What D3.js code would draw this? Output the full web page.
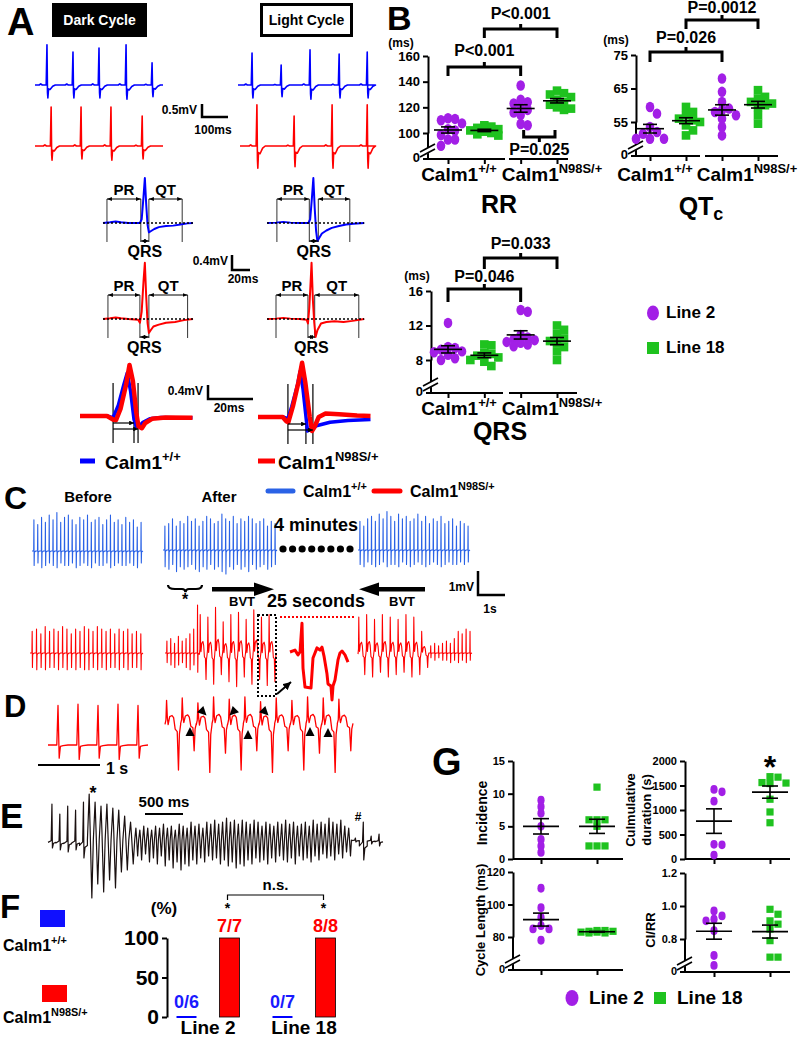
<!DOCTYPE html>
<html>
<head>
<meta charset="utf-8">
<script src="https://cdn.jsdelivr.net/npm/d3@7/dist/d3.min.js"></script>
<style>
  body { margin: 0; background: #fff; }
  svg { display: block; }
</style>
</head>
<body>
<svg id="fig" width="800" height="1039"></svg>
<script>
// ---------------- data ----------------

// A, top strips: R-peak times (ms), R heights and S depths (mV)
const darkBlueBeats = [46, 146, 246, 350, 450];
const darkBlueR = [1.55, 1.27, 1.42, 1.55, 0.85];
const darkBlueS = [-0.5, -0.5, -0.5, -0.55, -0.45];
const darkRedBeats = [62, 177, 292, 412];
const darkRedR = [1.5, 1.5, 1.5, 1.15];
const darkRedS = [-0.55, -0.5, -0.55, -0.5];
const lightBlueBeats = [54, 166, 277, 389, 497];
const lightBlueR = [1.23, 0.77, 1.35, 1.19, 1.27];
const lightBlueS = [-0.5, -0.45, -0.55, -0.5, -0.5];
const lightRedBeats = [65, 208, 354, 489];
const lightRedR = [1.58, 1.15, 1.58, 1.58];
const lightRedS = [-0.85, -0.8, -0.85, -0.85];
// beat template: [ms from R, weight of R, weight of S]
const beatShapeA = [[-30,0,0],[-24,0.03,0],[-18,0,0],[-3,0,0],[0,1,0],[2,0,0.6],[3.5,0,1],[6,0,0.3],[12,0,0.35],[22,0,0.1],[32,0,0]];

// A, averaged beats [ms, mV] and interval marks [PR start, QRS start, QRS end, QT end]
const avgDarkBlue = [[0,0],[8,0.02],[14,0.04],[20,0.02],[28,0],[41,0],[43,0.1],[45,0.7],[46.5,1.2],[48,0.5],[49.5,-0.05],[51,-0.25],[53,-0.22],[57,-0.16],[62,-0.11],[70,-0.08],[78,-0.07],[86,-0.04],[94,-0.01],[100,0]];
const avgDarkRed = [[0,0],[8,0.02],[14,0.04],[20,0.02],[28,0],[39,-0.02],[41,-0.1],[43,0.2],[45,1.0],[46.5,1.5],[48,0.6],[49.5,-0.1],[51,-0.37],[53,-0.3],[56,-0.2],[62,-0.15],[70,-0.1],[80,-0.08],[90,-0.03],[100,0]];
const avgLightBlue = [[0,0],[10,0.01],[18,0.03],[26,0.01],[36,0],[46,0],[48,0.1],[50,0.7],[51.5,1.2],[53,0.4],[54.5,-0.2],[56,-0.48],[58,-0.4],[61,-0.28],[66,-0.2],[72,-0.13],[80,-0.08],[88,-0.04],[96,-0.02],[108,0]];
const avgLightRed = [[0,0],[10,0.01],[18,0.03],[26,0.01],[36,0],[44,-0.02],[45.5,-0.12],[47,0.3],[48.5,1.0],[49.5,1.5],[51,0.5],[52.5,-0.1],[54,-0.48],[56,-0.3],[60,-0.12],[66,-0.08],[75,-0.06],[85,-0.08],[95,-0.05],[108,0]];
const marksDarkBlue = [4.4, 42, 51, 88];
const marksDarkRed = [5.5, 41, 51, 94];
const marksLightBlue = [11, 47, 57, 92];
const marksLightRed = [10, 45.5, 53, 102];

// A, QRS overlays [ms, mV] and marks [QRS start, end WT, end mutant]
const ovDarkBlue = [[0,0],[12,0],[14.7,-0.05],[17,0.3],[19.5,0.9],[21,1.23],[22.5,0.7],[24,-0.1],[25,-0.3],[26.5,-0.28],[28,-0.18],[31,-0.08],[36,-0.04],[43,-0.05],[50,-0.05]];
const ovDarkRed = [[0,0],[12,0],[14.7,-0.1],[16,-0.12],[18,0.2],[20.5,0.9],[22,1.46],[23.5,1.0],[25,0.1],[26,-0.3],[27.5,-0.35],[29,-0.2],[32,-0.08],[38,-0.04],[50,-0.05]];
const ovLightBlue = [[0,0],[11,0],[13.3,-0.05],[15,0.3],[17.5,0.9],[18.7,1.3],[20,0.8],[21.5,-0.1],[22,-0.4],[23.5,-0.35],[26,-0.25],[32,-0.15],[40,-0.1],[50,-0.07]];
const ovLightRed = [[0,0],[11,0],[12.5,-0.12],[13.5,-0.15],[15.5,0.3],[18,1.0],[19.6,1.55],[21,1.0],[23,0.0],[24,-0.4],[25,-0.3],[27,0.0],[30,0.1],[36,0.08],[44,0.04],[50,0.03]];
const ovMarksDark = [14.7, 24, 25.8];
const ovMarksLight = [13.3, 21.3, 24.4];

// B, scatter values (ms)
const groupsB = ['WT line 2', 'WT line 18', 'N98S line 2', 'N98S line 18'];
const rrWT2 = [111.5, 111, 110, 107.5, 103, 102, 98.5, 95, 95, 90];
const rrWT18 = [106, 105, 104, 103, 102, 101, 100, 99, 98];
const rrMut2 = [137, 126, 124, 123, 120, 118, 116, 114, 107, 106];
const rrMut18 = [133, 131, 130, 128, 126, 124, 122, 120, 119, 118];
const qtWT2 = [59.5, 57.5, 53.5, 52, 51.5, 50, 50, 50];
const qtWT18 = [59.5, 58, 57, 56, 55.5, 55, 54, 52.5, 51];
const qtMut2 = [68, 64, 61, 59, 58.5, 58, 57, 56, 53.5, 51];
const qtMut18 = [64.5, 62.5, 62, 61, 60.5, 60, 59.5, 57, 54.5];
const qrsWT2 = [12.3, 9.5, 9.4, 9.2, 9.0, 8.9, 8.6, 8.2, 8.0];
const qrsWT18 = [9.8, 9.7, 8.8, 8.7, 8.5, 8.3, 8.0, 7.8, 7.3];
const qrsMut2 = [13.8, 13.6, 10.9, 10.6, 10.4, 10.3, 10.1, 10.0, 9.8, 9.6];
const qrsMut18 = [12.0, 11.5, 11.0, 10.5, 10.2, 10.0, 9.5, 9.0, 8.0];
const rrTicks = [100, 120, 140, 160];
const qtTicks = [55, 65, 75];
const qrsTicks = [8, 12, 16];

// C, rhythm strips (mV per beat)
const cBlueBeforeUp = [1.3,1.1,1.4,1.2,1.5,1.3,1.6,1.2,1.4,1.5,1.3,1.1,1.4,1.3,1.5,1.2,1.3,1.4,1.1,1.3,1.5,1.2,1.3,1.1,1.4,1.2,1.3,1.0,1.2];
const cBlueBeforeDown = [-0.6,-0.5,-0.7,-0.6,-0.5,-0.6,-0.7,-0.5,-0.6,-0.6,-0.5,-0.7,-0.6,-0.5,-0.6,-0.7,-0.5,-0.6,-0.6,-0.5,-0.7,-0.6,-0.5,-0.6,-0.6,-0.5,-0.6,-0.7,-0.5];
const cBlueAfterUp = [1.0,1.1,1.3,1.0,1.2,1.1,1.4,1.2,1.3,1.0,1.2,1.4,1.3,1.1,1.2,1.5,1.3,1.2,1.4,1.1,1.3,1.2,1.4,1.3,1.1,1.2,1.3,1.0,1.2,1.1];
const cBlueAfterDown = [-0.7,-0.8,-0.6,-0.9,-0.7,-0.8,-0.7,-0.6,-0.8,-0.9,-0.7,-0.8,-0.6,-0.8,-0.7,-0.9,-1.0,-0.7,-0.8,-0.6,-0.8,-0.7,-0.9,-0.6,-0.8,-0.7,-0.6,-0.8,-0.7,-0.6];
const cBlueLateUp = [1.2,1.0,1.3,1.4,1.2,1.5,1.3,1.6,1.4,1.2,1.5,1.3,1.4,1.2,1.3,1.5,1.2,1.4,1.1,1.3,1.2,1.4,1.1,1.2,1.3,1.0,1.2,1.1,1.0];
const cBlueLateDown = [-0.6,-0.7,-0.5,-0.6,-0.7,-0.6,-0.5,-0.7,-0.6,-0.6,-0.7,-0.5,-0.6,-0.7,-0.6,-0.5,-0.6,-0.7,-0.6,-0.5,-0.6,-0.7,-0.6,-0.5,-0.6,-0.6,-0.5,-0.6,-0.5];
const cRedBeforeUp = [0.9,1.0,0.8,1.1,0.9,1.0,0.9,1.1,1.0,0.8,1.0,0.9,1.1,1.0,0.9,1.1,1.0,0.9,1.0,0.8,1.0,0.9,1.0,0.8,0.9,0.8];
const cRedBeforeDown = [-0.6,-0.7,-0.6,-0.7,-0.6,-0.6,-0.7,-0.6,-0.7,-0.6,-0.7,-0.6,-0.7,-0.7,-0.6,-0.7,-0.6,-0.7,-0.6,-0.6,-0.7,-0.6,-0.7,-0.6,-0.6,-0.7];
const cRedAfterSinusUp = [0.5,0.6,0.4,0.7,0.5,0.6,0.8,1.0,2.0];
const cRedAfterSinusDown = [-0.4,-0.5,-0.6,-0.5,-0.4,-0.6,-0.7,-0.5,-0.8];
const cRedAfterVtUp = [1.6,1.5,1.9,1.3,1.6,1.7,1.4,1.8,1.5,1.6];
const cRedAfterVtDown = [-1.1,-1.3,-0.9,-1.2,-1.4,-1.0,-1.3,-1.1,-1.35,-1.2];
const cRedLateVtUp = [1.5,1.6,1.4,1.6,1.5,1.4,1.6,1.5,0.9];
const cRedLateVtDown = [-0.9,-1.0,-0.8,-1.0,-0.9,-0.8,-1.0,-0.9,-0.6];
const cRedLateSinusUp = [0.3,0.4,0.3,0.4,0.5,0.4,0.6,0.9,0.8,1.0,0.9];
const cRedLateSinusDown = [-0.2,-0.3,-0.2,-0.3,-0.3,-0.4,-0.3,-0.4,-0.3,-0.4,-0.3];
// magnified VT complex [ms, mV]
const cInset = [[0,0],[5,0.08],[8,-0.12],[10,0],[12,1.2],[13,-0.67],[15,-1.46],[21,-1.5],[23,-0.25],[27,0.17],[30,0.08],[32,0.2],[34,-0.17],[37,-0.92],[38,-1.33],[41,-1.42],[42,-2.0],[43,-1.42],[45,-1.17],[48,-0.33],[50,-0.04],[52,0.04],[55,-0.12],[58,-0.42]];

// D
const dSinusUp = [1.65, 1.7, 1.65, 1.7, 1.65];
const dSinusDown = [-0.55, -0.6, -0.55, -0.6, -0.55];
const dVtUp = [0.9, 1.0, 0.8, 1.05, 0.95, 1.05, 0.85, 1.0, 0.9, 1.05, 1.0, 0.95];
const dVtDown = [-2.0, -1.2, -2.1, -1.3, -2.0, -1.2, -2.1, -1.2, -2.0, -1.3, -2.1, -1.2];

// E, polymorphic VT (mV per cycle)
const eBeatUp = [1.8, 1.3, 1.7, 1.5, 1.9];
const eBeatDown = [-0.4, -0.5, -0.6, -0.5, -0.9];
const eOscUp = [2.3, 1.9, 1.7, 1.8, 1.6, 1.5, 1.2, 0.9];
const eOscDown = [-2.9, -2.2, -2.6, -2.0, -2.4, -1.6, -1.5, -1.2];
const eFastUp = [0.6,0.5,0.7,0.6,0.5,0.7,0.6,0.8,0.6,0.7,0.5,0.8,0.7,0.6,0.9,0.7,0.8,0.6,0.9,0.8,1.0,0.8,0.9,1.1,0.9,1.0,0.8,1.0,0.9,0.8,1.0,0.9,0.7,0.9,0.8,0.7,0.9,0.8,1.0,0.8,0.9,0.7,0.8,0.9,0.7,1.0,0.8,0.9,0.8,1.1,0.9,0.8,1.0,0.7,0.6];
const eFastDown = [-0.8,-1.0,-0.7,-1.1,-0.9,-1.2,-0.8,-1.3,-1.0,-1.4,-1.1,-1.5,-1.2,-1.3,-1.0,-1.2,-0.9,-1.1,-0.8,-1.0,-0.9,-1.2,-1.0,-1.3,-1.1,-1.4,-1.2,-1.3,-1.0,-1.2,-0.9,-1.1,-1.0,-1.2,-0.9,-1.1,-0.8,-1.0,-1.1,-0.9,-1.2,-0.8,-1.0,-0.9,-1.1,-0.8,-1.0,-0.7,-0.9,-0.8,-1.0,-0.7,-0.9,-0.6,-0.8];
const eTailUp = [0.1, 0.9, 0.2, 0.3];
const eTailDown = [-0.1, -1.0, -0.2, -0.3];

// F
const fLines = ['Line 2', 'Line 18'];
const fWT = [0, 0];
const fMut = [100, 100];
const fWTLabel = ['0/6', '0/7'];
const fMutLabel = ['7/7', '8/8'];
const fTicks = [0, 50, 100];

// G
const incL2 = [9, 8, 7, 5, 3, 2, 1];
const incL18 = [11, 6, 6, 6, 5, 2, 2, 2];
const durL2 = [1420, 1370, 1180, 300, 290, 80];
const durL18 = [1680, 1670, 1560, 1550, 1540, 1220, 960, 740];
const clL2 = [110, 98, 92, 87, 85, 85, 78];
const clL18 = [84, 84, 83.5, 83.5, 83, 83, 82.5, 82.5];
const ciL2 = [0.97, 0.94, 0.92, 0.91, 0.85, 0.70, 0.64];
const ciL18 = [0.98, 0.95, 0.91, 0.89, 0.86, 0.79, 0.69, 0.69];

// ---------------- drawing ----------------
const FONT = "'Liberation Sans', Arial, Helvetica, sans-serif";
const PURPLE = '#a21fe6', GREEN = '#1fc21f', BLUE = '#0000ff', RED = '#ff0000', CBLUE = '#2a62e6';

const svg = d3.select('#fig');
svg.append('rect').attr('width', 800).attr('height', 1039).attr('fill', '#fff');
const defs = svg.append('defs');
defs.append('marker').attr('id', 'ah').attr('viewBox', '0 0 10 10').attr('refX', 10).attr('refY', 5)
  .attr('markerWidth', 5).attr('markerHeight', 5).attr('orient', 'auto-start-reverse')
  .append('path').attr('d', 'M0,1 L10,5 L0,9 z').attr('fill', '#000');
defs.append('marker').attr('id', 'ahb').attr('viewBox', '0 0 10 10').attr('refX', 10).attr('refY', 5)
  .attr('markerWidth', 4).attr('markerHeight', 4).attr('orient', 'auto')
  .append('path').attr('d', 'M0,0 L10,5 L0,10 z').attr('fill', '#000');

function txt(g, x, y, s, size, o = {}) {
  return g.append('text').attr('x', x).attr('y', y).attr('font-size', size)
    .attr('font-family', FONT).attr('font-weight', o.weight || 'bold')
    .attr('text-anchor', o.anchor || 'start').attr('dominant-baseline', o.base || 'middle')
    .attr('fill', o.fill || '#000').text(s);
}
function letter(s, x, y, size) {
  txt(svg, x, y, s, size, { base: 'auto' });
}
// "Calm1" with superscript genotype, y is the visual middle of the word
function calm(g, x, y, sup, size, anchor) {
  const t = g.append('text').attr('x', x).attr('y', y + size * 0.36).attr('font-size', size)
    .attr('font-family', FONT).attr('font-weight', 'bold')
    .attr('text-anchor', anchor || 'middle');
  t.append('tspan').text('Calm1');
  t.append('tspan').attr('font-size', size * 0.68).attr('dy', -size * 0.42).text(sup);
  return t;
}
function seg(g, x1, y1, x2, y2, w, color, dash) {
  const l = g.append('line').attr('x1', x1).attr('y1', y1).attr('x2', x2).attr('y2', y2)
    .attr('stroke', color || '#000').attr('stroke-width', w || 1);
  if (dash) l.attr('stroke-dasharray', dash);
  return l;
}
function trace(g, pts, x, y, color, w) {
  g.append('path').datum(pts).attr('fill', 'none').attr('stroke', color).attr('stroke-width', w)
    .attr('stroke-linejoin', 'round').attr('d', d3.line().x(d => x(d[0])).y(d => y(d[1])));
}
function scaleBar(g, x, yTop, yBot, xEnd, w) {
  g.append('path').attr('d', `M${x},${yTop}V${yBot}H${xEnd}`).attr('fill', 'none')
    .attr('stroke', '#000').attr('stroke-width', w || 2.5);
}

// strips built from evenly spaced beats, each beat drawn from a template of [phase, w_up, w_down]
const sinusShape = [[0,0,0],[0.44,0,0],[0.5,1,0],[0.56,0,1],[0.62,0,0.1],[0.75,0,0.05],[1,0,0]];
const vtShape = [[0,0,0.05],[0.06,0.1,0],[0.1,1,0],[0.15,0.2,0],[0.2,0.1,0.1],[0.3,0.25,0],[0.45,0.3,0],[0.55,0.2,0],[0.65,0,0.15],[0.78,0,0.2],[0.86,0,1],[0.92,0,0.25],[1,0,0.05]];
const eBeatShape = [[0,0,0.3],[0.4,0,0.1],[0.5,1,0],[0.56,0,1],[0.7,0,0.4],[1,0,0.3]];
const eOscShape = [[0,0,0],[0.3,1,0],[0.45,0.3,0],[0.75,0,1],[1,0,0]];

function rhythm(g, segs, x0, x1, yBase, mvPx, color, w) {
  const total = d3.sum(segs, s => s.weight * Math.min(s.ups.length, s.downs.length));
  const x = d3.scaleLinear().domain([0, total]).range([x0, x1]);
  const y = d3.scaleLinear().domain([0, 1]).range([yBase, yBase - mvPx]);
  const pts = [];
  let t = 0;
  segs.forEach(s => {
    const n = Math.min(s.ups.length, s.downs.length);
    for (let i = 0; i < n; i++) {
      s.shape.forEach(([p, wu, wd]) => pts.push([t + p * s.weight, wu * s.ups[i] + wd * s.downs[i]]));
      t += s.weight;
    }
  });
  trace(g, pts, x, y, color, w);
}

// ======== Panel A ========
const gA = svg.append('g');
letter('A', 7, 35, 38);
gA.append('rect').attr('x', 52).attr('y', 3).attr('width', 95).attr('height', 34).attr('fill', '#000');
txt(gA, 99.5, 21, 'Dark Cycle', 14, { anchor: 'middle', fill: '#fff' });
gA.append('rect').attr('x', 261.5).attr('y', 4.5).attr('width', 90).attr('height', 31)
  .attr('fill', '#fff').attr('stroke', '#000').attr('stroke-width', 3);
txt(gA, 306.5, 21, 'Light Cycle', 14, { anchor: 'middle' });

function stripA(beats, r, s, dur, x0, x1, base, color) {
  const x = d3.scaleLinear().domain([0, dur]).range([x0, x1]);
  const y = d3.scaleLinear().domain([0, 1]).range([base, base - 26]);
  const pts = [[0, 0]];
  beats.forEach((b, i) => beatShapeA.forEach(([t, wr, ws]) => pts.push([b + t, wr * r[i] + ws * s[i]])));
  pts.push([dur, 0]);
  trace(gA, pts, x, y, color, 1.6);
}
stripA(darkBlueBeats, darkBlueR, darkBlueS, 492, 35, 163, 85, BLUE);
stripA(darkRedBeats, darkRedR, darkRedS, 492, 35, 163, 146, RED);
stripA(lightBlueBeats, lightBlueR, lightBlueS, 500, 238, 368, 85, BLUE);
stripA(lightRedBeats, lightRedR, lightRedS, 492, 240, 368, 146, RED);
txt(gA, 197, 111, '0.5mV', 12, { anchor: 'end' });
scaleBar(gA, 202, 104, 117, 228);
txt(gA, 213, 131, '100ms', 12, { anchor: 'middle' });

function avgBeat(tpl, marks, x0, base, color) {
  const x = d3.scaleLinear().domain([0, 100]).range([x0, x0 + 90]);
  const y = d3.scaleLinear().domain([0, 1]).range([base, base - 37.5]);
  const [pr, q, s, te] = marks.map(x);
  [pr, q, s, te].forEach(v => seg(gA, v, base - 24, v, base + 19, 1, '#333'));
  trace(gA, tpl, x, y, color, 2);
  seg(gA, x(tpl[0][0]), base, x(tpl[tpl.length - 1][0]), base, 1.5, '#000', '2,2');
  seg(gA, pr, base - 24, q, base - 24, 1).attr('marker-start', 'url(#ah)').attr('marker-end', 'url(#ah)');
  seg(gA, s, base - 24, te, base - 24, 1).attr('marker-start', 'url(#ah)').attr('marker-end', 'url(#ah)');
  seg(gA, q, base + 18, s, base + 18, 1).attr('marker-start', 'url(#ah)').attr('marker-end', 'url(#ah)');
  txt(gA, (pr + q) / 2, base - 32, 'PR', 15, { anchor: 'middle' });
  txt(gA, (s + te) / 2, base - 32, 'QT', 15, { anchor: 'middle' });
  txt(gA, (q + s) / 2, base + 30, 'QRS', 16, { anchor: 'middle' });
}
avgBeat(avgDarkBlue, marksDarkBlue, 103, 223, BLUE);
avgBeat(avgDarkRed, marksDarkRed, 103, 319, RED);
avgBeat(avgLightBlue, marksLightBlue, 267, 223, BLUE);
avgBeat(avgLightRed, marksLightRed, 267, 319, RED);
txt(gA, 228, 262, '0.4mV', 12, { anchor: 'end' });
scaleBar(gA, 232, 255, 270, 250);
txt(gA, 243, 280, '20ms', 12, { anchor: 'middle' });

function overlay(blue, red, marks, x0, base) {
  const x = d3.scaleLinear().domain([0, 50]).range([x0, x0 + 112.5]);
  const y = d3.scaleLinear().domain([0, 1]).range([base, base - 35]);
  const [a, b, c] = marks.map(x);
  [a, b, c].forEach(v => seg(gA, v, base - 33, v, base + 27, 1.2, '#000'));
  trace(gA, blue, x, y, BLUE, 3.5);
  trace(gA, red, x, y, RED, 4.5);
  seg(gA, a, base + 7, b, base + 7, 1.2).attr('marker-end', 'url(#ahb)');
  seg(gA, a, base + 13, c, base + 13, 1.2).attr('marker-end', 'url(#ahb)');
}
overlay(ovDarkBlue, ovDarkRed, ovMarksDark, 80, 416);
overlay(ovLightBlue, ovLightRed, ovMarksLight, 258, 417);
txt(gA, 203, 392, '0.4mV', 12, { anchor: 'end' });
scaleBar(gA, 208, 385, 399, 253);
txt(gA, 229, 409, '20ms', 12, { anchor: 'middle' });
seg(gA, 80, 461, 95, 461, 5, BLUE);
calm(gA, 105, 462, '+/+', 19, 'start');
seg(gA, 258, 461, 275, 461, 5, RED);
calm(gA, 278, 462, 'N98S/+', 19, 'start');

// ======== scatter charts (B, G) ========
function dodge(vals, y, dist, step, maxOff) {
  const placed = [];
  vals.map(v => ({ v, y: y(v) })).sort((a, b) => a.y - b.y).forEach(p => {
    const cands = [0];
    for (let k = 1; k * step <= maxOff; k++) cands.push(k * step, -k * step);
    let best = 0, bestD = -1;
    for (const c of cands) {
      const d = placed.length ? d3.min(placed, q => Math.hypot(q.dx - c, q.y - p.y)) : Infinity;
      if (d >= dist) { best = c; break; }
      if (d > bestD) { bestD = d; best = c; }
    }
    p.dx = best;
    placed.push(p);
  });
  return placed;
}

function scatterChart(g, o) {
  const xs = d3.scalePoint().domain(d3.range(o.groups.length)).range(o.xr);
  const y = o.y;
  const aw = o.aw || 2;
  const ax = g.append('g').attr('transform', `translate(${o.axisX},0)`)
    .call(d3.axisLeft(y).tickValues(o.ticks).tickSize(5).tickSizeOuter(0).tickPadding(3)
      .tickFormat(o.fmt || (d => d)));
  ax.select('.domain').attr('stroke-width', aw);
  ax.selectAll('.tick line').attr('stroke-width', aw);
  ax.selectAll('.tick text').attr('font-size', o.fs).attr('font-weight', 'bold')
    .attr('font-family', FONT).attr('fill', '#000');
  let yBot = y.range()[0];
  if (o.zeroY != null) {
    seg(g, o.axisX, yBot, o.axisX, o.zeroY, aw);
    seg(g, o.axisX - 5, o.zeroY, o.axisX, o.zeroY, aw);
    txt(g, o.axisX - 8, o.zeroY, '0', o.fs, { anchor: 'end' });
    const yb = o.zeroY - 9;
    seg(g, o.axisX - 7, yb + 4, o.axisX + 7, yb - 3, 5, '#fff');
    seg(g, o.axisX - 8, yb + 2, o.axisX + 7, yb - 6, 1.6);
    seg(g, o.axisX - 8, yb + 7, o.axisX + 7, yb - 1, 1.6);
    yBot = o.zeroY;
  }
  o.segs.forEach(([a, b]) => seg(g, a, yBot, b, yBot, aw));
  const bx = g.append('g').attr('transform', `translate(0,${yBot})`)
    .call(d3.axisBottom(xs).tickSize(5).tickSizeOuter(0).tickFormat(''));
  bx.select('.domain').remove();
  bx.selectAll('.tick line').attr('stroke-width', aw);

  o.groups.forEach((gr, i) => {
    const cx = xs(i);
    const color = gr.kind === 'c' ? PURPLE : GREEN;
    dodge(gr.vals, y, o.dist, o.step, o.maxOff).forEach(p => {
      if (gr.kind === 'c') {
        g.append('ellipse').attr('cx', cx + p.dx).attr('cy', p.y).attr('rx', o.r).attr('ry', o.r * 1.22).attr('fill', color);
      } else {
        g.append('rect').attr('x', cx + p.dx - o.r).attr('y', p.y - o.r).attr('width', o.r * 2).attr('height', o.r * 2).attr('fill', color);
      }
    });
    const m = d3.mean(gr.vals), se = d3.deviation(gr.vals) / Math.sqrt(gr.vals.length);
    seg(g, cx - o.meanHalf, y(m), cx + o.meanHalf, y(m), 1.6);
    seg(g, cx, y(m - se), cx, y(m + se), 1.6);
    seg(g, cx - o.capHalf, y(m - se), cx + o.capHalf, y(m - se), 1.6);
    seg(g, cx - o.capHalf, y(m + se), cx + o.capHalf, y(m + se), 1.6);
  });
  return xs;
}
function bracket(g, x1, x2, yLine, yEnd, label, ly, tickDir) {
  g.append('path').attr('d', `M${x1},${yEnd}V${yLine}H${x2}V${yEnd}`)
    .attr('fill', 'none').attr('stroke', '#000').attr('stroke-width', 3);
  seg(g, (x1 + x2) / 2, yLine, (x1 + x2) / 2, yLine + tickDir * 5, 3);
  txt(g, (x1 + x2) / 2, ly, label, 16, { anchor: 'middle' });
}

// ======== Panel B ========
const gB = svg.append('g');
letter('B', 387, 30, 34);
const bOpts = { fs: 13, r: 4.3, dist: 7, step: 7, maxOff: 16, meanHalf: 14, capHalf: 7, aw: 2 };

const yRR = d3.scaleLinear().domain([100, 160]).range([133, 56]);
const xRR = scatterChart(gB, Object.assign({}, bOpts, {
  axisX: 428, xr: [448, 557], y: yRR, ticks: rrTicks, zeroY: 159, segs: [[428, 505], [509, 568]],
  groups: [{ vals: rrWT2, kind: 'c' }, { vals: rrWT18, kind: 's' }, { vals: rrMut2, kind: 'c' }, { vals: rrMut18, kind: 's' }]
}));
txt(gB, 401, 43.5, '(ms)', 12, { anchor: 'middle' });
bracket(gB, xRR(0), xRR(2), 67, 76, 'P<0.001', 52, -1);
bracket(gB, xRR(1), xRR(3), 29, 38, 'P<0.001', 15, -1);
bracket(gB, xRR(2) + 3, xRR(3) - 2, 137, 130, 'P=0.025', 151, 1);
calm(gB, 459, 174, '+/+', 19);
calm(gB, 552, 174, 'N98S/+', 19);
txt(gB, 499, 206, 'RR', 25, { anchor: 'middle' });

const yQT = d3.scaleLinear().domain([55, 75]).range([122, 55]);
const xQT = scatterChart(gB, Object.assign({}, bOpts, {
  axisX: 636, xr: [650, 758], y: yQT, ticks: qtTicks, zeroY: 156, segs: [[636, 700], [705, 778]],
  groups: [{ vals: qtWT2, kind: 'c' }, { vals: qtWT18, kind: 's' }, { vals: qtMut2, kind: 'c' }, { vals: qtMut18, kind: 's' }]
}));
txt(gB, 616, 41, '(ms)', 12, { anchor: 'middle' });
bracket(gB, xQT(0), xQT(2), 52, 62, 'P=0.026', 39, -1);
bracket(gB, xQT(1), xQT(3), 20, 29, 'P=0.0012', 9, -1);
calm(gB, 655, 174, '+/+', 19);
calm(gB, 747, 174, 'N98S/+', 19);
const qtc = gB.append('text').attr('x', 701).attr('y', 215).attr('font-size', 25).attr('font-family', FONT)
  .attr('font-weight', 'bold').attr('text-anchor', 'middle');
qtc.append('tspan').text('QT');
qtc.append('tspan').attr('font-size', 18).attr('dy', 5).text('c');

const yQRS = d3.scaleLinear().domain([8, 16]).range([360, 291]);
const xQRS = scatterChart(gB, Object.assign({}, bOpts, {
  axisX: 431, xr: [448, 557], y: yQRS, ticks: qrsTicks, zeroY: 393, segs: [[431, 503], [509, 577]],
  groups: [{ vals: qrsWT2, kind: 'c' }, { vals: qrsWT18, kind: 's' }, { vals: qrsMut2, kind: 'c' }, { vals: qrsMut18, kind: 's' }]
}));
txt(gB, 417, 277, '(ms)', 12, { anchor: 'middle' });
bracket(gB, xQRS(0), xQRS(2), 289, 302, 'P=0.046', 278, -1);
bracket(gB, xQRS(1), xQRS(3), 258, 269, 'P=0.033', 245, -1);
calm(gB, 459, 408, '+/+', 19);
calm(gB, 552, 408, 'N98S/+', 19);
txt(gB, 500, 433, 'QRS', 25, { anchor: 'middle' });

gB.append('ellipse').attr('cx', 653).attr('cy', 313).attr('rx', 6).attr('ry', 7.5).attr('fill', PURPLE);
txt(gB, 666, 314, 'Line 2', 17);
gB.append('rect').attr('x', 647).attr('y', 342).attr('width', 12).attr('height', 12).attr('fill', GREEN);
txt(gB, 666, 349, 'Line 18', 17);

// ======== Panel C ========
const gC = svg.append('g');
letter('C', 4, 509, 32);
txt(gC, 88, 498, 'Before', 15, { anchor: 'middle' });
txt(gC, 219, 498, 'After', 15, { anchor: 'middle' });
seg(gC, 268, 491, 293, 491, 5, CBLUE).attr('stroke-linecap', 'round');
calm(gC, 303, 491, '+/+', 16, 'start');
seg(gC, 374, 491, 400, 491, 5, RED).attr('stroke-linecap', 'round');
calm(gC, 410, 491, 'N98S/+', 16, 'start');

rhythm(gC, [{ shape: sinusShape, weight: 1, ups: cBlueBeforeUp, downs: cBlueBeforeDown }], 32, 143, 551, 24, CBLUE, 1.1);
rhythm(gC, [{ shape: sinusShape, weight: 1, ups: cBlueAfterUp, downs: cBlueAfterDown }], 163, 277, 550, 24, CBLUE, 1.1);
rhythm(gC, [{ shape: sinusShape, weight: 1, ups: cBlueLateUp, downs: cBlueLateDown }], 358, 470, 550, 24, CBLUE, 1.1);
rhythm(gC, [{ shape: sinusShape, weight: 1, ups: cRedBeforeUp, downs: cRedBeforeDown }], 30, 143, 653, 24, RED, 1.1);
rhythm(gC, [{ shape: sinusShape, weight: 1, ups: cRedAfterSinusUp, downs: cRedAfterSinusDown },
            { shape: vtShape, weight: 2, ups: cRedAfterVtUp, downs: cRedAfterVtDown }], 165, 276, 653, 24, RED, 1.1);
rhythm(gC, [{ shape: vtShape, weight: 2, ups: cRedLateVtUp, downs: cRedLateVtDown },
            { shape: sinusShape, weight: 1, ups: cRedLateSinusUp, downs: cRedLateSinusDown }], 358, 472, 653, 24, RED, 1.1);

const dotX = d3.scalePoint().domain(d3.range(8)).range([283, 350]);
gC.selectAll('circle.gap').data(d3.range(8)).join('circle').attr('class', 'gap')
  .attr('cx', d => dotX(d)).attr('cy', 549).attr('r', 3.6).attr('fill', '#000');
txt(gC, 316, 526, '4 minutes', 18, { anchor: 'middle' });

gC.append('path').attr('d', 'M168,585 Q168,589 175,589 L182,589 Q185,589 185.5,592 Q186,589 189,589 L196,589 Q202,589 202,585')
  .attr('fill', 'none').attr('stroke', '#000').attr('stroke-width', 2.2);
txt(gC, 185, 601, '*', 16, { anchor: 'middle' });
gC.append('rect').attr('x', 212).attr('y', 587).attr('width', 44).attr('height', 4.5).attr('fill', '#000');
gC.append('path').attr('d', 'M254,582.5 L274,589.2 L254,596 Z').attr('fill', '#000');
gC.append('rect').attr('x', 377).attr('y', 587).attr('width', 48).attr('height', 4.5).attr('fill', '#000');
gC.append('path').attr('d', 'M379,582.5 L359,589.2 L379,596 Z').attr('fill', '#000');
txt(gC, 242, 603, 'BVT', 13, { anchor: 'middle' });
txt(gC, 402, 603, 'BVT', 13, { anchor: 'middle' });
txt(gC, 316, 602, '25 seconds', 18, { anchor: 'middle' });
txt(gC, 474, 588, '1mV', 12, { anchor: 'end' });
scaleBar(gC, 478, 571, 595, 505);
txt(gC, 490, 610, '1s', 12, { anchor: 'middle' });

seg(gC, 280, 617, 356, 617, 2, RED, '2,2');
gC.append('rect').attr('x', 258).attr('y', 615).attr('width', 18).attr('height', 81)
  .attr('fill', 'none').attr('stroke', '#000').attr('stroke-width', 2).attr('stroke-dasharray', '2,2');
seg(gC, 277, 694, 291, 682, 2).attr('marker-end', 'url(#ahb)');
trace(gC, cInset, d3.scaleLinear().domain([0, 58]).range([290, 348]),
  d3.scaleLinear().domain([0, 1]).range([652, 628]), RED, 3);

// ======== Panel D ========
const gD = svg.append('g');
letter('D', 4, 717, 31);
rhythm(gD, [{ shape: sinusShape, weight: 1, ups: dSinusUp, downs: dSinusDown }], 48, 148, 745, 24, RED, 1.3);
seg(gD, 38, 765, 100, 765, 2);
txt(gD, 106, 770, '1 s', 16);
rhythm(gD, [{ shape: vtShape, weight: 1, ups: dVtUp, downs: dVtDown }], 165, 353, 722, 24, RED, 1.3);
function tri(g, x, y, rot) {
  g.append('path').attr('d', 'M0,-5 L4.5,4 L-4.5,4 Z').attr('fill', '#000')
    .attr('transform', `translate(${x},${y}) rotate(${rot})`);
}
[[190, 732], [248, 735], [310, 732], [328, 733]].forEach(([x, y]) => tri(gD, x, y, 0));
tri(gD, 203, 712, 135);
tri(gD, 233, 712, -135);
tri(gD, 265, 712, 135);

// ======== Panel E ========
const gE = svg.append('g');
letter('E', 0, 828, 35);
rhythm(gE, [{ shape: eBeatShape, weight: 2, ups: eBeatUp, downs: eBeatDown },
            { shape: eOscShape, weight: 1.5, ups: eOscUp, downs: eOscDown },
            { shape: eOscShape, weight: 1, ups: eFastUp, downs: eFastDown },
            { shape: eBeatShape, weight: 2, ups: eTailUp, downs: eTailDown }], 48, 383, 840, 20, '#1a1010', 1.2);
txt(gE, 93, 794, '*', 18, { anchor: 'middle' });
txt(gE, 164, 803, '500 ms', 15, { anchor: 'middle' });
seg(gE, 145, 814, 183, 814, 2);
txt(gE, 358, 818, '#', 12, { anchor: 'middle' });

// ======== Panel F ========
const gF = svg.append('g');
letter('F', 0, 918, 33);
gF.append('rect').attr('x', 40).attr('y', 910).attr('width', 25).attr('height', 17).attr('fill', '#1010ff');
calm(gF, 3, 945, '+/+', 16, 'start');
gF.append('rect').attr('x', 42).attr('y', 985).attr('width', 25).attr('height', 17).attr('fill', RED);
calm(gF, 3, 1017, 'N98S/+', 16, 'start');
txt(gF, 164, 910, '(%)', 17, { anchor: 'middle' });
const yF = d3.scaleLinear().domain([0, 100]).range([1017, 938]);
const xF = d3.scalePoint().domain(fLines).range([208, 304]);
const xSub = d3.scaleBand().domain(['wt', 'mut']).range([-31.5, 31.5]).paddingInner(0.535);
const fAx = gF.append('g').attr('transform', 'translate(167,0)')
  .call(d3.axisLeft(yF).tickValues(fTicks).tickSize(5).tickSizeOuter(0).tickPadding(3));
fAx.select('.domain').attr('stroke-width', 2);
fAx.selectAll('.tick line').attr('stroke-width', 2);
fAx.selectAll('.tick text').attr('font-size', 21).attr('font-weight', 'bold').attr('font-family', FONT).attr('fill', '#000');
fLines.forEach((ln, i) => {
  const cx = xF(ln);
  gF.append('rect').attr('x', cx + xSub('wt')).attr('y', yF(fWT[i]) - 1).attr('width', xSub.bandwidth())
    .attr('height', Math.max(2, yF(0) - yF(fWT[i]) + 1)).attr('fill', BLUE);
  gF.append('rect').attr('x', cx + xSub('mut')).attr('y', yF(fMut[i])).attr('width', xSub.bandwidth())
    .attr('height', yF(0) - yF(fMut[i])).attr('fill', RED).attr('stroke', '#000').attr('stroke-width', 0.8);
  txt(gF, cx + xSub('wt') + xSub.bandwidth() / 2, yF(fWT[i]) - 14, fWTLabel[i], 18, { anchor: 'middle', fill: '#1a1aff' });
  txt(gF, cx + xSub('mut') + xSub.bandwidth() / 2, yF(fMut[i]) - 11, fMutLabel[i], 18, { anchor: 'middle', fill: RED });
  txt(gF, cx + xSub('mut') + xSub.bandwidth() / 2 - 2, yF(fMut[i]) - 29, '*', 14, { anchor: 'middle' });
  txt(gF, cx, 1029, ln, 19, { anchor: 'middle' });
});
const fs1 = xF(fLines[0]) + xSub('mut') + xSub.bandwidth() / 2 - 2;
const fs2 = xF(fLines[1]) + xSub('mut') + xSub.bandwidth() / 2 - 2;
gF.append('path').attr('d', `M${fs1},900V895H${fs2}V900`).attr('fill', 'none').attr('stroke', '#000').attr('stroke-width', 1.2);
txt(gF, (fs1 + fs2) / 2, 886, 'n.s.', 15, { anchor: 'middle' });

// ======== Panel G ========
const gG = svg.append('g');
letter('G', 432, 775, 38);
const gOpts = { fs: 11, r: 3.6, dist: 6.5, step: 8, maxOff: 16, meanHalf: 18, capHalf: 8, aw: 2 };

const yInc = d3.scaleLinear().domain([0, 15]).range([859, 761]);
scatterChart(gG, Object.assign({}, gOpts, {
  axisX: 513, xr: [541, 597], y: yInc, ticks: [0, 5, 10, 15], segs: [[513, 623]],
  groups: [{ vals: incL2, kind: 'c' }, { vals: incL18, kind: 's' }]
}));
txt(gG, 0, 0, 'Incidence', 14, { anchor: 'middle' }).attr('transform', 'translate(483,813) rotate(-90)');

const yDur = d3.scaleLinear().domain([0, 2000]).range([859, 761]);
const xDur = scatterChart(gG, Object.assign({}, gOpts, {
  axisX: 685, xr: [714, 770], y: yDur, ticks: [0, 500, 1000, 1500, 2000], segs: [[685, 790]],
  groups: [{ vals: durL2, kind: 'c' }, { vals: durL18, kind: 's' }]
}));
txt(gG, 0, 0, 'Culmulative', 13, { anchor: 'middle' }).attr('transform', 'translate(632,810) rotate(-90)');
txt(gG, 0, 0, 'duration (s)', 13, { anchor: 'middle' }).attr('transform', 'translate(648,810) rotate(-90)');
txt(gG, xDur(1), 770, '*', 32, { anchor: 'middle' });

const yCL = d3.scaleLinear().domain([80, 120]).range([937, 872]);
scatterChart(gG, Object.assign({}, gOpts, {
  axisX: 513, xr: [541, 597], y: yCL, ticks: [80, 100, 120], zeroY: 970, segs: [[513, 623]],
  groups: [{ vals: clL2, kind: 'c' }, { vals: clL18, kind: 's' }]
}));
txt(gG, 0, 0, 'Cycle Length (ms)', 13, { anchor: 'middle' }).attr('transform', 'translate(482,920) rotate(-90)');

const yCI = d3.scaleLinear().domain([0.8, 1.2]).range([939, 873]);
scatterChart(gG, Object.assign({}, gOpts, {
  axisX: 685, xr: [714, 770], y: yCI, ticks: [0.8, 1.0, 1.2], zeroY: 972, segs: [[685, 790]],
  fmt: d3.format('.1f'),
  groups: [{ vals: ciL2, kind: 'c' }, { vals: ciL18, kind: 's' }]
}));
txt(gG, 0, 0, 'CI/RR', 13, { anchor: 'middle' }).attr('transform', 'translate(652,930) rotate(-90)');

gG.append('ellipse').attr('cx', 572).attr('cy', 998).attr('rx', 6.5).attr('ry', 8).attr('fill', PURPLE);
txt(gG, 589, 999, 'Line 2', 19);
gG.append('rect').attr('x', 654).attr('y', 992).attr('width', 12).attr('height', 12).attr('fill', GREEN);
txt(gG, 677, 999, 'Line 18', 19);
</script>
</body>
</html>
